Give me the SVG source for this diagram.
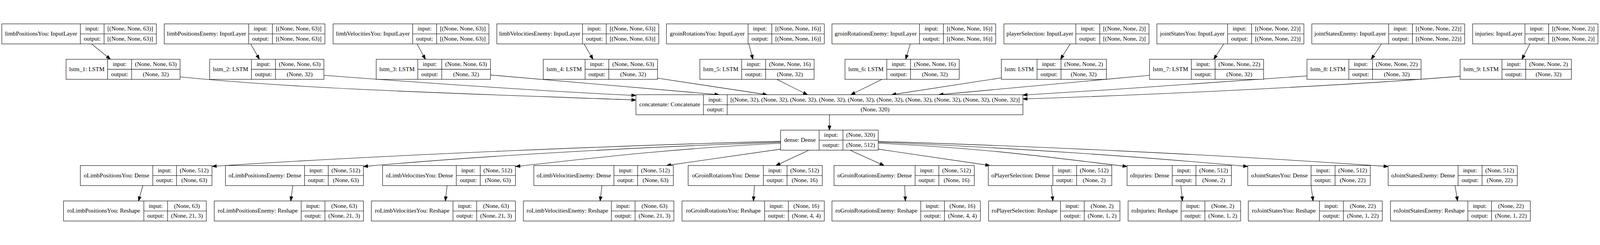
<svg xmlns="http://www.w3.org/2000/svg" width="5001" height="627" viewBox="0 0 5001 627" style="width:100%;height:100%">
<defs>
<style>
.n rect{fill:#fff;stroke:#000;stroke-width:1.33}
.n path{fill:none;stroke:#000;stroke-width:1.33}
text{font-family:"Liberation Serif","Times New Roman",serif;font-size:18.67px;text-anchor:middle;fill:#000}
#edges path{fill:none;stroke:#000;stroke-width:1.33;marker-end:url(#arr)}
</style>
<marker id="arr" markerUnits="userSpaceOnUse" viewBox="0 0 13.33 9.33" markerWidth="13.33" markerHeight="9.33" refX="13.33" refY="4.67" orient="auto" overflow="visible">
<path d="M0,0 L13.33,4.67 L0,9.33 Z" fill="#000" stroke="#000" stroke-width="1.33"/>
</marker>
</defs>
<rect x="0" y="0" width="5001" height="627" fill="#fff"/>

<g id="edges">
<path d="M286.2,68 L345.2,116"/>
<path d="M783.6,68 L810.7,116"/>
<path d="M1303.4,68 L1329.7,116"/>
<path d="M1825.6,68 L1853.5,116"/>
<path d="M2340.6,68 L2353.3,116"/>
<path d="M2845.2,68 L2830.8,116"/>
<path d="M3345,68 L3314.7,116"/>
<path d="M3825,68 L3793.9,116"/>
<path d="M4318,68 L4286.1,116"/>
<path d="M4781.6,68 L4756.9,116"/>

<path d="M563,171 C963,211 1487.7,224.3 1987.7,243.3"/>
<path d="M1012.4,166 C1312.4,188.8 1687.7,215.5 1987.7,229"/>
<path d="M1533,165 L2247.7,226.67"/>
<path d="M2055,175 L2398,226.67"/>
<path d="M2428,178.67 L2524,226.67"/>
<path d="M2756.7,178.67 L2659.4,226.67"/>
<path d="M3129.8,174 L2787,226.67"/>
<path d="M3593,166 L2934.5,226.67"/>
<path d="M4085,168 C3850,186 3500,210 3197.3,227.7"/>
<path d="M4563.8,169 C4200,199 3600,227 3197.3,240"/>

<path d="M2592.5,289.33 L2592.5,337.33"/>

<path d="M2440,372.3 C2000,383 1200,415 663,450.5"/>
<path d="M2440,375 C2000,390 1500,418 1136,451"/>
<path d="M2440,378.3 C2100,395 1850,425 1612,451"/>
<path d="M2440,396.7 L2083,448"/>
<path d="M2528.3,400 L2425,448"/>
<path d="M2656.7,400 L2763.3,448"/>
<path d="M2745,396.7 L3094,448"/>
<path d="M2745,378.3 C3100,395 3300,425 3522.8,451"/>
<path d="M2745,375 C3145,391 3600,423 3900,451"/>
<path d="M2745,372.7 C3195,386.2 3788.8,412.5 4338.8,451"/>

<path d="M446.4,510.67 L432.9,558.67"/>
<path d="M915.2,510.67 L908.8,558.67"/>
<path d="M1397.5,510.67 L1391.9,558.67"/>
<path d="M1881.4,510.67 L1875.8,558.67"/>
<path d="M2358.1,510.67 L2354.9,558.67"/>
<path d="M2827.6,510.67 L2830,558.67"/>
<path d="M3286,510.67 L3290.8,558.67"/>
<path d="M3691,510.67 L3695.8,558.67"/>
<path d="M4097.9,510.67 L4104.2,558.67"/>
<path d="M4547.8,510.67 L4555.8,558.67"/>
</g>

<!-- Row 1: inputs -->
<g id="limbPositionsYou" class="n"><rect x="5.6" y="5.33" width="483.1" height="62.67"/><path d="M251.1,5.33V68M325.3,5.33V68M251.1,36.67H488.7"/><text x="128.35" y="41.9">limbPositionsYou: InputLayer</text><text x="288.2" y="26.3">input:</text><text x="407" y="26.3">[(None, None, 63)]</text><text x="288.2" y="57.6">output:</text><text x="407" y="57.6">[(None, None, 63)]</text></g>
<g id="limbPositionsEnemy" class="n"><rect x="513.4" y="5.33" width="502.2" height="62.67"/><path d="M777.3,5.33V68M851.4,5.33V68M777.3,36.67H1015.6"/><text x="645.35" y="41.9">limbPositionsEnemy: InputLayer</text><text x="814.35" y="26.3">input:</text><text x="933.5" y="26.3">[(None, None, 63)]</text><text x="814.35" y="57.6">output:</text><text x="933.5" y="57.6">[(None, None, 63)]</text></g>
<g id="limbVelocitiesYou" class="n"><rect x="1041.1" y="5.33" width="487.1" height="62.67"/><path d="M1289.9,5.33V68M1364.8,5.33V68M1289.9,36.67H1528.2"/><text x="1165.5" y="41.9">limbVelocitiesYou: InputLayer</text><text x="1327.35" y="26.3">input:</text><text x="1446.5" y="26.3">[(None, None, 63)]</text><text x="1327.35" y="57.6">output:</text><text x="1446.5" y="57.6">[(None, None, 63)]</text></g>
<g id="limbVelocitiesEnemy" class="n"><rect x="1552.9" y="5.33" width="506.3" height="62.67"/><path d="M1820.8,5.33V68M1894.9,5.33V68M1820.8,36.67H2059.2"/><text x="1686.85" y="41.9">limbVelocitiesEnemy: InputLayer</text><text x="1857.85" y="26.3">input:</text><text x="1977.05" y="26.3">[(None, None, 63)]</text><text x="1857.85" y="57.6">output:</text><text x="1977.05" y="57.6">[(None, None, 63)]</text></g>
<g id="groinRotationsYou" class="n"><rect x="2083.1" y="5.33" width="493.4" height="62.67"/><path d="M2338.2,5.33V68M2412.3,5.33V68M2338.2,36.67H2576.5"/><text x="2210.65" y="41.9">groinRotationsYou: InputLayer</text><text x="2375.25" y="26.3">input:</text><text x="2494.4" y="26.3">[(None, None, 16)]</text><text x="2375.25" y="57.6">output:</text><text x="2494.4" y="57.6">[(None, None, 16)]</text></g>
<g id="groinRotationsEnemy" class="n"><rect x="2600.4" y="5.33" width="511.8" height="62.67"/><path d="M2873.9,5.33V68M2948.8,5.33V68M2873.9,36.67H3112.2"/><text x="2737.15" y="41.9">groinRotationsEnemy: InputLayer</text><text x="2911.35" y="26.3">input:</text><text x="3030.5" y="26.3">[(None, None, 16)]</text><text x="2911.35" y="57.6">output:</text><text x="3030.5" y="57.6">[(None, None, 16)]</text></g>
<g id="playerSelection" class="n"><rect x="3137.8" y="5.33" width="453.6" height="62.67"/><path d="M3362.6,5.33V68M3437.5,5.33V68M3362.6,36.67H3591.4"/><text x="3250.2" y="41.9">playerSelection: InputLayer</text><text x="3400.05" y="26.3">input:</text><text x="3514.45" y="26.3">[(None, None, 2)]</text><text x="3400.05" y="57.6">output:</text><text x="3514.45" y="57.6">[(None, None, 2)]</text></g>
<g id="jointStatesYou" class="n"><rect x="3616" y="5.33" width="459.5" height="62.67"/><path d="M3837,5.33V68M3912,5.33V68M3837,36.67H4075.5"/><text x="3726.5" y="41.9">jointStatesYou: InputLayer</text><text x="3874.5" y="26.3">input:</text><text x="3993.75" y="26.3">[(None, None, 22)]</text><text x="3874.5" y="57.6">output:</text><text x="3993.75" y="57.6">[(None, None, 22)]</text></g>
<g id="jointStatesEnemy" class="n"><rect x="4100.2" y="5.33" width="477.9" height="62.67"/><path d="M4340.4,5.33V68M4414.6,5.33V68M4340.4,36.67H4578.1"/><text x="4220.3" y="41.9">jointStatesEnemy: InputLayer</text><text x="4377.5" y="26.3">input:</text><text x="4496.35" y="26.3">[(None, None, 22)]</text><text x="4377.5" y="57.6">output:</text><text x="4496.35" y="57.6">[(None, None, 22)]</text></g>
<g id="injuries" class="n"><rect x="4602.9" y="5.33" width="391.7" height="62.67"/><path d="M4766.4,5.33V68M4840.6,5.33V68M4766.4,36.67H4994.6"/><text x="4684.65" y="41.9">injuries: InputLayer</text><text x="4803.5" y="26.3">input:</text><text x="4917.6" y="26.3">[(None, None, 2)]</text><text x="4803.5" y="57.6">output:</text><text x="4917.6" y="57.6">[(None, None, 2)]</text></g>

<!-- Row 2: LSTMs -->
<g id="lstm_1" class="n"><rect x="206.5" y="116" width="356.3" height="62.67"/><path d="M336.4,116V178.67M411.4,116V178.67M336.4,147.33H562.8"/><text x="271.45" y="152.6">lstm_1: LSTM</text><text x="373.9" y="137">input:</text><text x="487.1" y="137">(None, None, 63)</text><text x="373.9" y="168.3">output:</text><text x="487.1" y="168.3">(None, 32)</text></g>
<g id="lstm_2" class="n"><rect x="655.3" y="116" width="357.1" height="62.67"/><path d="M786,116V178.67M861,116V178.67M786,147.33H1012.4"/><text x="720.65" y="152.6">lstm_2: LSTM</text><text x="823.5" y="137">input:</text><text x="936.7" y="137">(None, None, 63)</text><text x="823.5" y="168.3">output:</text><text x="936.7" y="168.3">(None, 32)</text></g>
<g id="lstm_3" class="n"><rect x="1175.9" y="116" width="357.1" height="62.67"/><path d="M1305.8,116V178.67M1380.7,116V178.67M1305.8,147.33H1533"/><text x="1240.85" y="152.6">lstm_3: LSTM</text><text x="1343.25" y="137">input:</text><text x="1456.85" y="137">(None, None, 63)</text><text x="1343.25" y="168.3">output:</text><text x="1456.85" y="168.3">(None, 32)</text></g>
<g id="lstm_4" class="n"><rect x="1698" y="116" width="357.2" height="62.67"/><path d="M1828.8,116V178.67M1902.9,116V178.67M1828.8,147.33H2055.2"/><text x="1763.4" y="152.6">lstm_4: LSTM</text><text x="1865.85" y="137">input:</text><text x="1979.05" y="137">(None, None, 63)</text><text x="1865.85" y="168.3">output:</text><text x="1979.05" y="168.3">(None, 32)</text></g>
<g id="lstm_5" class="n"><rect x="2187.5" y="116" width="357.1" height="62.67"/><path d="M2318.2,116V178.67M2393.2,116V178.67M2318.2,147.33H2544.6"/><text x="2252.85" y="152.6">lstm_5: LSTM</text><text x="2355.7" y="137">input:</text><text x="2468.9" y="137">(None, None, 16)</text><text x="2355.7" y="168.3">output:</text><text x="2468.9" y="168.3">(None, 32)</text></g>
<g id="lstm_6" class="n"><rect x="2641.1" y="116" width="357.1" height="62.67"/><path d="M2771.8,116V178.67M2846,116V178.67M2771.8,147.33H2998.2"/><text x="2706.45" y="152.6">lstm_6: LSTM</text><text x="2808.9" y="137">input:</text><text x="2922.1" y="137">(None, None, 16)</text><text x="2808.9" y="168.3">output:</text><text x="2922.1" y="168.3">(None, 32)</text></g>
<g id="lstm" class="n"><rect x="3129.8" y="116" width="328.4" height="62.67"/><path d="M3241.4,116V178.67M3316.3,116V178.67M3241.4,147.33H3458.2"/><text x="3185.6" y="152.6">lstm: LSTM</text><text x="3278.85" y="137">input:</text><text x="3387.25" y="137">(None, None, 2)</text><text x="3278.85" y="168.3">output:</text><text x="3387.25" y="168.3">(None, 32)</text></g>
<g id="lstm_7" class="n"><rect x="3593" y="116" width="356.5" height="62.67"/><path d="M3723.7,116V178.67M3797.9,116V178.67M3723.7,147.33H3949.5"/><text x="3658.35" y="152.6">lstm_7: LSTM</text><text x="3760.8" y="137">input:</text><text x="3873.7" y="137">(None, None, 22)</text><text x="3760.8" y="168.3">output:</text><text x="3873.7" y="168.3">(None, 32)</text></g>
<g id="lstm_8" class="n"><rect x="4085.1" y="116" width="356.6" height="62.67"/><path d="M4215.9,116V178.67M4290.1,116V178.67M4215.9,147.33H4441.7"/><text x="4150.5" y="152.6">lstm_8: LSTM</text><text x="4253" y="137">input:</text><text x="4365.9" y="137">(None, None, 22)</text><text x="4253" y="168.3">output:</text><text x="4365.9" y="168.3">(None, 32)</text></g>
<g id="lstm_9" class="n"><rect x="4563.8" y="116" width="347.8" height="62.67"/><path d="M4694.6,116V178.67M4768.8,116V178.67M4694.6,147.33H4911.6"/><text x="4629.2" y="152.6">lstm_9: LSTM</text><text x="4731.7" y="137">input:</text><text x="4840.2" y="137">(None, None, 2)</text><text x="4731.7" y="168.3">output:</text><text x="4840.2" y="168.3">(None, 32)</text></g>

<!-- Row 3 / 4 -->
<g id="concatenate" class="n"><rect x="1987.7" y="226.67" width="1209.6" height="62.67"/><path d="M2198.7,226.67V289.33M2273,226.67V289.33M2198.7,258H3197.3"/><text x="2093.2" y="263.3">concatenate: Concatenate</text><text x="2235.85" y="247.7">input:</text><text x="2735.15" y="247.7">[(None, 32), (None, 32), (None, 32), (None, 32), (None, 32), (None, 32), (None, 32), (None, 32), (None, 32), (None, 32)]</text><text x="2235.85" y="279">output:</text><text x="2735.15" y="279">(None, 320)</text></g>
<g id="dense" class="n"><rect x="2440" y="337.33" width="305" height="62.67"/><path d="M2560.3,337.33V400M2634.7,337.33V400M2560.3,368.67H2745"/><text x="2500.15" y="373.9">dense: Dense</text><text x="2597.5" y="358.3">input:</text><text x="2689.85" y="358.3">(None, 320)</text><text x="2597.5" y="389.6">output:</text><text x="2689.85" y="389.6">(None, 512)</text></g>

<!-- Row 5: output Dense -->
<g id="oLimbPositionsYou" class="n"><rect x="251.1" y="448" width="411.4" height="62.67"/><path d="M477.5,448V510.67M551.7,448V510.67M477.5,479.33H662.5"/><text x="364.3" y="484.6">oLimbPositionsYou: Dense</text><text x="514.6" y="469">input:</text><text x="607.1" y="469">(None, 512)</text><text x="514.6" y="500.3">output:</text><text x="607.1" y="500.3">(None, 63)</text></g>
<g id="oLimbPositionsEnemy" class="n"><rect x="704.7" y="448" width="431.3" height="62.67"/><path d="M951.8,448V510.67M1026,448V510.67M951.8,479.33H1136"/><text x="828.25" y="484.6">oLimbPositionsEnemy: Dense</text><text x="988.9" y="469">input:</text><text x="1081" y="469">(None, 512)</text><text x="988.9" y="500.3">output:</text><text x="1081" y="500.3">(None, 63)</text></g>
<g id="oLimbVelocitiesYou" class="n"><rect x="1195.8" y="448" width="415.3" height="62.67"/><path d="M1426.2,448V510.67M1501.1,448V510.67M1426.2,479.33H1611.1"/><text x="1311" y="484.6">oLimbVelocitiesYou: Dense</text><text x="1463.65" y="469">input:</text><text x="1556.1" y="469">(None, 512)</text><text x="1463.65" y="500.3">output:</text><text x="1556.1" y="500.3">(None, 63)</text></g>
<g id="oLimbVelocitiesEnemy" class="n"><rect x="1668.5" y="448" width="436.1" height="62.67"/><path d="M1918.8,448V510.67M1993,448V510.67M1918.8,479.33H2104.6"/><text x="1793.65" y="484.6">oLimbVelocitiesEnemy: Dense</text><text x="1955.9" y="469">input:</text><text x="2048.8" y="469">(None, 512)</text><text x="1955.9" y="500.3">output:</text><text x="2048.8" y="500.3">(None, 63)</text></g>
<g id="oGroinRotationsYou" class="n"><rect x="2150.8" y="448" width="419.4" height="62.67"/><path d="M2386,448V510.67M2460,448V510.67M2386,479.33H2570.2"/><text x="2268.4" y="484.6">oGroinRotationsYou: Dense</text><text x="2423" y="469">input:</text><text x="2515.1" y="469">(None, 512)</text><text x="2423" y="500.3">output:</text><text x="2515.1" y="500.3">(None, 16)</text></g>
<g id="oGroinRotationsEnemy" class="n"><rect x="2606.8" y="448" width="438.5" height="62.67"/><path d="M2860.3,448V510.67M2934.5,448V510.67M2860.3,479.33H3045.3"/><text x="2733.55" y="484.6">oGroinRotationsEnemy: Dense</text><text x="2897.4" y="469">input:</text><text x="2989.9" y="469">(None, 512)</text><text x="2897.4" y="500.3">output:</text><text x="2989.9" y="500.3">(None, 16)</text></g>
<g id="oPlayerSelection" class="n"><rect x="3089.1" y="448" width="385.9" height="62.67"/><path d="M3290.8,448V510.67M3365,448V510.67M3290.8,479.33H3475"/><text x="3189.95" y="484.6">oPlayerSelection: Dense</text><text x="3327.9" y="469">input:</text><text x="3420" y="469">(None, 512)</text><text x="3327.9" y="500.3">output:</text><text x="3420" y="500.3">(None, 2)</text></g>
<g id="oInjuries" class="n"><rect x="3522.8" y="448" width="326.1" height="62.67"/><path d="M3663.9,448V510.67M3738,448V510.67M3663.9,479.33H3848.9"/><text x="3593.35" y="484.6">oInjuries: Dense</text><text x="3700.95" y="469">input:</text><text x="3793.45" y="469">(None, 512)</text><text x="3700.95" y="500.3">output:</text><text x="3793.45" y="500.3">(None, 2)</text></g>
<g id="oJointStatesYou" class="n"><rect x="3900" y="448" width="383" height="62.67"/><path d="M4097.9,448V510.67M4172.9,448V510.67M4097.9,479.33H4283"/><text x="3998.95" y="484.6">oJointStatesYou: Dense</text><text x="4135.4" y="469">input:</text><text x="4227.95" y="469">(None, 512)</text><text x="4135.4" y="500.3">output:</text><text x="4227.95" y="500.3">(None, 22)</text></g>
<g id="oJointStatesEnemy" class="n"><rect x="4338.8" y="448" width="403.7" height="62.67"/><path d="M4557.4,448V510.67M4632.4,448V510.67M4557.4,479.33H4742.5"/><text x="4448.1" y="484.6">oJointStatesEnemy: Dense</text><text x="4594.9" y="469">input:</text><text x="4687.45" y="469">(None, 512)</text><text x="4594.9" y="500.3">output:</text><text x="4687.45" y="500.3">(None, 22)</text></g>

<!-- Row 6: Reshape -->
<g id="roLimbPositionsYou" class="n"><rect x="198.5" y="558.67" width="446.4" height="62.67"/><path d="M449.6,558.67V621.33M523.8,558.67V621.33M449.6,590H644.9"/><text x="324.05" y="595.3">roLimbPositionsYou: Reshape</text><text x="486.7" y="579.7">input:</text><text x="584.35" y="579.7">(None, 63)</text><text x="486.7" y="611">output:</text><text x="584.35" y="611">(None, 21, 3)</text></g>
<g id="roLimbPositionsEnemy" class="n"><rect x="669.6" y="558.67" width="466.4" height="62.67"/><path d="M941.5,558.67V621.33M1015.6,558.67V621.33M941.5,590H1136"/><text x="805.55" y="595.3">roLimbPositionsEnemy: Reshape</text><text x="978.55" y="579.7">input:</text><text x="1075.8" y="579.7">(None, 63)</text><text x="978.55" y="611">output:</text><text x="1075.8" y="611">(None, 21, 3)</text></g>
<g id="roLimbVelocitiesYou" class="n"><rect x="1160.7" y="558.67" width="450.4" height="62.67"/><path d="M1415.8,558.67V621.33M1490,558.67V621.33M1415.8,590H1611.1"/><text x="1288.25" y="595.3">roLimbVelocitiesYou: Reshape</text><text x="1452.9" y="579.7">input:</text><text x="1550.55" y="579.7">(None, 63)</text><text x="1452.9" y="611">output:</text><text x="1550.55" y="611">(None, 21, 3)</text></g>
<g id="roLimbVelocitiesEnemy" class="n"><rect x="1635.8" y="558.67" width="470.4" height="62.67"/><path d="M1910.9,558.67V621.33M1985,558.67V621.33M1910.9,590H2106.2"/><text x="1773.35" y="595.3">roLimbVelocitiesEnemy: Reshape</text><text x="1947.95" y="579.7">input:</text><text x="2045.6" y="579.7">(None, 63)</text><text x="1947.95" y="611">output:</text><text x="2045.6" y="611">(None, 21, 3)</text></g>
<g id="roGroinRotationsYou" class="n"><rect x="2131.7" y="558.67" width="444.8" height="62.67"/><path d="M2390,558.67V621.33M2464.1,558.67V621.33M2390,590H2576.5"/><text x="2260.85" y="595.3">roGroinRotationsYou: Reshape</text><text x="2427.05" y="579.7">input:</text><text x="2520.3" y="579.7">(None, 16)</text><text x="2427.05" y="611">output:</text><text x="2520.3" y="611">(None, 4, 4)</text></g>
<g id="roGroinRotationsEnemy" class="n"><rect x="2600.4" y="558.67" width="464" height="62.67"/><path d="M2877.9,558.67V621.33M2952,558.67V621.33M2877.9,590H3064.4"/><text x="2739.15" y="595.3">roGroinRotationsEnemy: Reshape</text><text x="2914.95" y="579.7">input:</text><text x="3008.2" y="579.7">(None, 16)</text><text x="2914.95" y="611">output:</text><text x="3008.2" y="611">(None, 4, 4)</text></g>
<g id="roPlayerSelection" class="n"><rect x="3089.9" y="558.67" width="410.6" height="62.67"/><path d="M3314.7,558.67V621.33M3388.9,558.67V621.33M3314.7,590H3500.5"/><text x="3202.3" y="595.3">roPlayerSelection: Reshape</text><text x="3351.8" y="579.7">input:</text><text x="3444.7" y="579.7">(None, 2)</text><text x="3351.8" y="611">output:</text><text x="3444.7" y="611">(None, 1, 2)</text></g>
<g id="roInjuries" class="n"><rect x="3526" y="558.67" width="351.7" height="62.67"/><path d="M3691.8,558.67V621.33M3766,558.67V621.33M3691.8,590H3877.7"/><text x="3608.9" y="595.3">roInjuries: Reshape</text><text x="3728.9" y="579.7">input:</text><text x="3821.85" y="579.7">(None, 2)</text><text x="3728.9" y="611">output:</text><text x="3821.85" y="611">(None, 1, 2)</text></g>
<g id="roJointStatesYou" class="n"><rect x="3901.6" y="558.67" width="418.9" height="62.67"/><path d="M4124,558.67V621.33M4199,558.67V621.33M4124,590H4320.5"/><text x="4012.8" y="595.3">roJointStatesYou: Reshape</text><text x="4161.5" y="579.7">input:</text><text x="4259.75" y="579.7">(None, 22)</text><text x="4161.5" y="611">output:</text><text x="4259.75" y="611">(None, 1, 22)</text></g>
<g id="roJointStatesEnemy" class="n"><rect x="4346" y="558.67" width="437.2" height="62.67"/><path d="M4587.9,558.67V621.33M4662,558.67V621.33M4587.9,590H4783.2"/><text x="4466.95" y="595.3">roJointStatesEnemy: Reshape</text><text x="4624.95" y="579.7">input:</text><text x="4722.6" y="579.7">(None, 22)</text><text x="4624.95" y="611">output:</text><text x="4722.6" y="611">(None, 1, 22)</text></g>
</svg>
